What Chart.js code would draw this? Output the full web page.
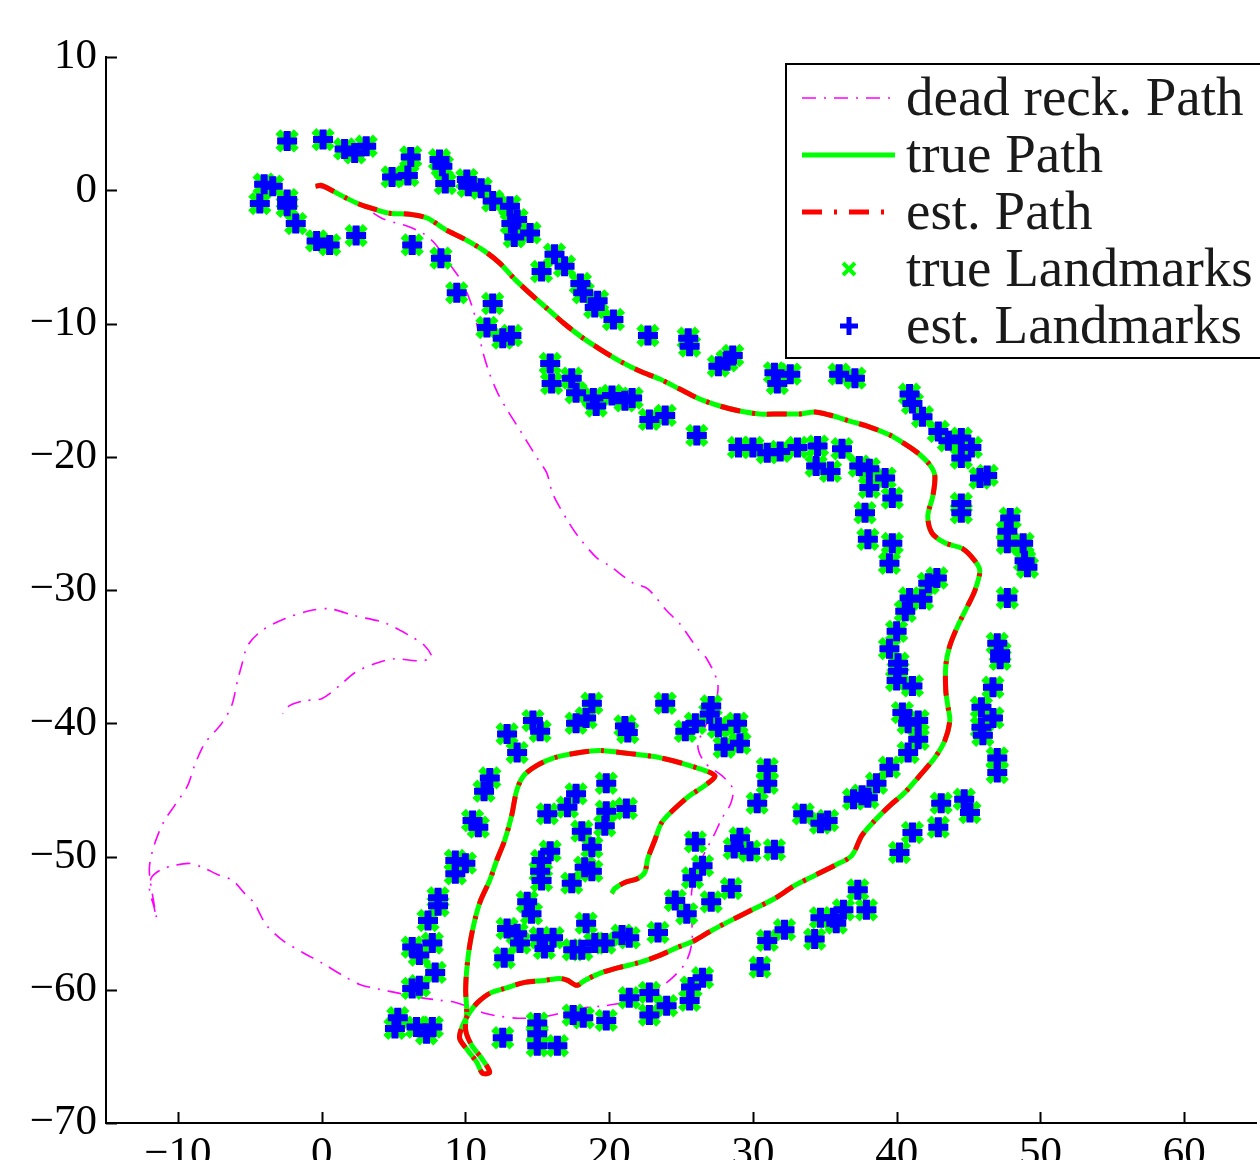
<!DOCTYPE html>
<html>
<head>
<meta charset="utf-8">
<script src="https://cdn.jsdelivr.net/npm/chart.js@4.4.0/dist/chart.umd.min.js"></script>
<style>
  html, body { margin: 0; padding: 0; background: #fff; overflow: hidden; }
  #wrap { width: 1260px; height: 1160px; overflow: hidden; }
</style>
</head>
<body>
<div id="wrap"><canvas id="slamChart" width="1276" height="1200"></canvas></div>
<script>
// Axis limits and ticks
const xTicks = [-10, 0, 10, 20, 30, 40, 50, 60];
const yTicks = [-70, -60, -50, -40, -30, -20, -10, 0, 10];

// Series names
const seriesNames = ["dead reck. Path", "true Path", "est. Path", "true Landmarks", "est. Landmarks"];

// Dead reckoning path [x, y]
const deadReckPath = [
  [-0.42,0.30],[0.77,-0.07],[1.81,-0.67],[2.85,-1.20],[4.18,-2.10],[5.22,-2.47],[5.98,-2.70],[7.03,-3.22],
  [7.86,-3.97],[8.91,-5.55],[9.81,-6.97],[10.51,-8.85],[10.79,-10.04],[11.20,-12.07],[11.69,-13.79],[12.25,-15.22],
  [12.87,-16.42],[13.92,-18.22],[14.47,-19.19],[15.03,-20.16],[15.66,-21.21],[16.08,-22.79],[17.12,-24.81],[17.82,-25.94],
  [19.14,-27.59],[20.04,-28.19],[21.64,-29.46],[22.69,-29.91],[24.01,-31.56],[24.91,-32.53],[26.10,-34.33],[26.79,-35.16],
  [27.56,-37.03],[27.35,-38.68],[26.65,-40.33],[26.17,-41.68],[26.65,-42.95],[27.84,-43.93],[28.60,-44.90],[28.46,-46.03],
  [27.84,-47.15],[27.28,-48.43],[26.65,-49.70],[26.10,-51.05],[25.75,-52.55],[25.75,-54.42],[25.75,-56.52],[25.33,-57.95],
  [24.43,-59.07],[23.52,-59.82],[22.13,-60.49],[20.74,-61.02],[19.35,-61.24],[17.95,-61.39],[16.56,-61.77],[15.17,-62.07],
  [13.64,-62.14],[12.39,-61.99],[11.34,-61.77],[10.30,-61.32],[9.26,-60.94],[8.21,-60.79],[6.82,-60.57],[5.43,-60.27],
  [4.04,-59.97],[2.64,-59.60],[1.46,-58.92],[0.07,-58.02],[-1.32,-57.20],[-2.71,-56.30],[-3.83,-55.17],[-4.31,-54.27],
  [-4.66,-53.52],[-5.36,-52.77],[-6.19,-51.80],[-7.24,-51.35],[-8.28,-50.82],[-9.19,-50.52],[-10.23,-50.67],[-11.13,-50.97],
  [-11.83,-51.57],[-11.97,-52.55],[-11.69,-53.67],[-11.48,-54.65],[-11.76,-52.92],[-11.97,-51.42],[-11.97,-50.67],[-11.76,-49.55],
  [-11.41,-48.43],[-10.93,-47.30],[-10.23,-46.18],[-9.32,-44.68],[-8.84,-43.18],[-8.14,-41.53],[-6.96,-40.03],[-6.26,-38.68],
  [-5.85,-36.81],[-5.57,-35.68],[-5.15,-34.18],[-4.18,-33.06],[-2.57,-32.16],[-0.84,-31.56],[0.56,-31.41],[2.30,-31.93],
  [4.38,-32.46],[6.12,-33.43],[7.17,-34.18],[7.65,-35.08],[6.68,-35.31],[5.08,-35.16],[3.69,-35.53],[2.30,-36.21],
  [1.25,-37.18],[0.00,-38.16],[-1.18,-38.31],[-2.23,-38.68],[-2.71,-39.28]
];

// True path [x, y]
const truePath = [
  [-0.42,0.30],[0.00,0.37],[0.56,0.07],[1.60,-0.52],[2.64,-1.05],[3.69,-1.42],[4.73,-1.72],[6.12,-1.80],
  [7.38,-2.10],[8.56,-2.92],[9.95,-3.67],[11.34,-4.57],[12.39,-5.47],[13.43,-6.67],[14.47,-7.72],[15.73,-8.92],
  [16.91,-10.04],[18.09,-11.02],[19.35,-11.92],[20.74,-12.82],[22.13,-13.57],[23.52,-14.17],[24.91,-14.92],[26.30,-15.67],
  [27.70,-16.19],[29.09,-16.57],[30.48,-16.79],[31.87,-16.79],[33.26,-16.79],[34.31,-16.64],[35.35,-16.87],[36.74,-17.32],
  [38.14,-17.77],[39.53,-18.37],[40.57,-19.04],[41.48,-19.72],[42.31,-20.61],[42.66,-21.44],[42.52,-22.94],[42.17,-24.44],
  [42.45,-25.71],[43.35,-26.46],[44.61,-26.91],[45.44,-27.81],[45.79,-28.56],[45.44,-30.06],[44.95,-31.18],[44.26,-32.68],
  [43.70,-34.18],[43.42,-35.68],[43.42,-37.56],[43.56,-38.68],[43.70,-39.81],[43.35,-41.30],[42.66,-42.58],[41.61,-43.93],
  [40.57,-45.20],[39.53,-46.18],[38.48,-47.30],[37.58,-48.43],[36.88,-49.93],[35.70,-50.67],[34.31,-51.42],[32.92,-52.17],
  [31.52,-53.15],[30.13,-53.90],[28.74,-54.65],[27.14,-55.55],[25.96,-56.30],[24.77,-56.82],[23.52,-57.42],[22.13,-57.95],
  [20.74,-58.32],[19.35,-58.77],[18.30,-59.30],[17.75,-59.67],[17.12,-59.30],[16.56,-59.15],[15.52,-59.30],[14.13,-59.45],
  [12.73,-59.90],[11.69,-60.27],[10.86,-60.95],[10.30,-61.69],[9.81,-62.67],[9.60,-63.64],[10.16,-64.54],[10.79,-65.44],
  [11.20,-66.27],[11.69,-66.19],[11.13,-65.14],[10.44,-64.17],[10.02,-63.04],[10.09,-61.54],[10.02,-60.04],[10.09,-58.55],
  [10.30,-56.67],[10.65,-54.80],[11.06,-53.30],[11.69,-51.80],[12.18,-50.30],[12.73,-48.80],[13.22,-46.93],[13.57,-45.05],
  [14.06,-43.93],[14.96,-43.18],[16.21,-42.58],[17.95,-42.20],[19.35,-42.05],[21.43,-42.28],[23.52,-42.58],[25.61,-43.18],
  [27.35,-43.93],[26.65,-44.68],[25.61,-45.43],[24.57,-46.40],[23.66,-47.45],[23.17,-48.80],[22.69,-50.15],[22.48,-51.20],
  [21.99,-51.65],[21.09,-51.95],[20.39,-52.40],[20.18,-52.77]
];

// Estimated path sits on top of the true path at this scale
const estPath = truePath;

// Landmarks [x, y] (estimates coincide with the true positions)
const landmarks = [
  [-2.4,3.7],[0.1,3.8],[1.6,3.1],[2.3,2.8],[3.1,3.3],[6.2,2.5],[8.2,2.3],[8.4,1.8],[4.9,1.0],[6.0,1.1],
  [-4.0,0.45],[-3.4,0.3],[-4.3,-1.0],[-2.4,-0.7],[-2.4,-1.2],[-1.8,-2.5],[-0.35,-3.8],[0.56,-4.1],[2.4,-3.4],[6.3,-4.1],
  [8.3,-5.1],[8.6,0.5],[10.1,0.8],[10.2,0.3],[11.1,0.15],[11.9,-0.8],[13.1,-1.2],[13.2,-2.5],[13.6,-2.2],[13.4,-3.5],
  [14.5,-3.2],[9.4,-7.7],[11.9,-8.5],[11.5,-10.3],[12.6,-11.1],[13.2,-10.9],[16.2,-4.8],[15.3,-6.1],[16.9,-5.7],[18.0,-7.0],
  [18.2,-7.7],[19.2,-8.3],[19.0,-8.8],[20.3,-9.7],[22.7,-10.9],[25.5,-11.1],[25.6,-11.7],[27.6,-13.2],[28.6,-12.4],[28.2,-12.8],
  [15.9,-13.0],[16.0,-14.5],[17.4,-14.1],[17.7,-15.2],[18.9,-15.6],[19.1,-16.2],[20.2,-15.4],[21.1,-15.8],[21.6,-15.6],[22.8,-17.2],
  [23.9,-16.9],[26.1,-18.4],[29.0,-19.3],
  [31.5,-13.7],[32.6,-13.8],[31.7,-14.5],[36.0,-13.8],[37.1,-14.1],[40.9,-15.3],[41.1,-16.0],[41.8,-17.0],[42.9,-18.1],[43.6,-18.8],
  [44.5,-18.6],[45.2,-19.3],[44.5,-20.1],[45.8,-21.6],[46.3,-21.4],[44.5,-23.5],[44.5,-24.2],[47.9,-24.6],[47.7,-25.6],[47.7,-26.5],
  [48.8,-26.5],[48.9,-27.8],[49.1,-28.3],[47.7,-30.6],[30.0,-19.3],[31.0,-19.7],[31.9,-19.6],[33.1,-19.3],[34.5,-19.2],[36.2,-19.4],
  [34.4,-20.7],[35.4,-21.1],[37.4,-20.7],[38.1,-20.9],[38.1,-22.3],[39.2,-21.6],[39.7,-23.1],[37.8,-24.2],[38.0,-26.2],[39.7,-26.5],
  [39.5,-28.0],[42.8,-29.1],[42.2,-29.5],[40.9,-30.6],[41.8,-30.7],[40.6,-31.6],[40.0,-33.1],[39.5,-34.4],[47.0,-34.0],[47.2,-34.7],
  [40.1,-35.5],[40.1,-36.1],[40.0,-36.8],[41.1,-37.2],[47.2,-35.2],[46.7,-37.3],[40.4,-39.2],[40.8,-40.0],[41.5,-39.8],[41.5,-41.2],
  [40.8,-42.2],[39.5,-43.3],[38.6,-44.5],[37.6,-45.4],[37.0,-45.7],[38.0,-45.6],[33.5,-46.8],[34.7,-47.5],[35.2,-47.3],[30.3,-46.0],
  [31.0,-43.4],[31.0,-44.5],[29.8,-49.6],[31.5,-49.5],[45.9,-38.8],[46.7,-39.6],[45.9,-40.3],[46.0,-40.9],[47.0,-42.6],[47.0,-43.7],
  [43.1,-46.0],[44.7,-45.7],[45.1,-46.7],[42.9,-47.8],[41.1,-48.2],[40.2,-49.7],[37.3,-52.5],[37.9,-54.0],[34.7,-54.6],[35.6,-54.6],
  [36.3,-54.0],[35.8,-55.0],[32.2,-55.5],[31.0,-56.3],[34.3,-56.2],[30.5,-58.3],
  [18.8,-38.5],[18.4,-39.6],[17.7,-40.0],[14.7,-39.8],[15.2,-40.6],[12.9,-40.8],[13.6,-42.2],[21.1,-40.2],[21.3,-40.7],[23.9,-38.5],
  [27.1,-38.7],[27.0,-39.3],[26.0,-40.0],[25.3,-40.6],[27.6,-40.3],[28.9,-40.0],[28.0,-41.8],[29.1,-41.5],
  [11.3,-45.1],[11.7,-44.1],[10.5,-47.3],[10.9,-47.8],[9.3,-50.3],[10.0,-50.5],[9.3,-51.3],[15.7,-46.8],[17.1,-46.3],[17.7,-45.3],
  [19.8,-44.5],[19.8,-46.6],[21.2,-46.4],[19.7,-47.7],[18.1,-48.1],[18.8,-49.3],[15.9,-49.6],[15.3,-50.3],[15.2,-51.1],[15.3,-51.8],
  [18.3,-50.8],[18.8,-51.1],[17.4,-52.0],[14.3,-53.4],[14.6,-54.3],[18.4,-55.0],[12.9,-55.4],[13.6,-55.8],[13.8,-56.5],[12.7,-57.6],
  [15.2,-56.1],[16.1,-56.1],[15.5,-56.9],[17.5,-57.0],[18.1,-57.0],[19.0,-56.5],[19.7,-56.5],[20.9,-55.9],[21.4,-56.1],[23.4,-55.7],
  [24.6,-53.3],[25.4,-54.3],[27.1,-53.4],[26.0,-48.9],[26.5,-50.7],[25.8,-51.6],[28.5,-52.4],[29.1,-48.6],[28.7,-49.4],
  [21.4,-60.6],[22.8,-60.2],[22.8,-61.9],[24.0,-61.2],[25.7,-59.8],[26.5,-59.1],[25.6,-60.8],[17.5,-61.9],[18.2,-62.1],[19.8,-62.3],
  [15.0,-62.5],[15.0,-63.3],[15.0,-64.2],[16.4,-64.2],[12.6,-63.6],
  [8.1,-53.1],[8.1,-53.7],[7.4,-54.8],[6.3,-56.8],[7.7,-56.5],[6.8,-57.4],[7.9,-58.7],[6.3,-59.9],[6.8,-59.7],[5.1,-62.9],
  [5.3,-62.1],[6.6,-62.8],[7.7,-62.8],[7.3,-63.3]
];
const estLandmarks = landmarks;

const toXY = arr => arr.map(p => ({ x: p[0], y: p[1] }));
const serif = "'Liberation Serif', 'Times New Roman', serif";
const fmt = v => (v < 0 ? '\u2212' + Math.abs(v) : String(v));

// Inner tick marks and the boxed legend, drawn like the MATLAB figure
const figurePlugin = {
  id: 'figureExtras',
  afterDraw(chart) {
    const ctx = chart.ctx;
    const area = chart.chartArea;
    const xs = chart.scales.x, ys = chart.scales.y;
    ctx.save();
    ctx.strokeStyle = '#000';
    ctx.lineWidth = 2;
    xTicks.forEach(v => {
      const px = Math.round(xs.getPixelForValue(v)) + 0.5;
      ctx.beginPath(); ctx.moveTo(px, area.bottom); ctx.lineTo(px, area.bottom - 11); ctx.stroke();
    });
    yTicks.forEach(v => {
      const py = Math.round(ys.getPixelForValue(v)) + 0.5;
      ctx.beginPath(); ctx.moveTo(area.left, py); ctx.lineTo(area.left + 11, py); ctx.stroke();
    });

    // legend box
    const bx = 786, by = 64, bw = 490, bh = 294;
    ctx.fillStyle = '#fff';
    ctx.fillRect(bx, by, bw, bh);
    ctx.strokeStyle = '#000';
    ctx.lineWidth = 2;
    ctx.strokeRect(bx, by, bw, bh);

    const rowY = [98, 155, 212, 269, 326];
    const x0 = 802, x1 = 895, xm = 849;
    const ds = chart.data.datasets;
    // line samples
    [0, 1, 2].forEach(i => {
      ctx.beginPath();
      ctx.strokeStyle = ds[i].borderColor;
      ctx.lineWidth = ds[i].borderWidth;
      ctx.setLineDash(ds[i].borderDash || []);
      ctx.moveTo(x0, rowY[i]); ctx.lineTo(x1, rowY[i]);
      ctx.stroke();
    });
    ctx.setLineDash([]);
    // green x
    ctx.strokeStyle = '#00ff00'; ctx.lineWidth = 4;
    const r = 6;
    ctx.beginPath();
    ctx.moveTo(xm - r, rowY[3] - r); ctx.lineTo(xm + r, rowY[3] + r);
    ctx.moveTo(xm + r, rowY[3] - r); ctx.lineTo(xm - r, rowY[3] + r);
    ctx.stroke();
    // blue +
    ctx.strokeStyle = '#0000ff'; ctx.lineWidth = 5;
    ctx.beginPath();
    ctx.moveTo(xm - 9, rowY[4]); ctx.lineTo(xm + 9, rowY[4]);
    ctx.moveTo(xm, rowY[4] - 9); ctx.lineTo(xm, rowY[4] + 9);
    ctx.stroke();

    ctx.fillStyle = '#1a1a1a';
    ctx.font = '55px ' + serif;
    ctx.textAlign = 'left';
    ctx.textBaseline = 'alphabetic';
    seriesNames.forEach((name, i) => ctx.fillText(name, 906, rowY[i] + 17));
    ctx.restore();
  }
};

const ctx = document.getElementById('slamChart').getContext('2d');

new Chart(ctx, {
  type: 'scatter',
  data: {
    datasets: [
      {
        label: seriesNames[0],
        data: toXY(deadReckPath),
        showLine: true,
        borderColor: '#ff00ff',
        borderWidth: 1.6,
        borderDash: [14, 8, 2, 8],
        pointRadius: 0,
        tension: 0.3,
        order: 5
      },
      {
        label: seriesNames[1],
        data: toXY(truePath),
        showLine: true,
        borderColor: '#00ff00',
        borderWidth: 5,
        pointRadius: 0,
        tension: 0.3,
        order: 4
      },
      {
        label: seriesNames[2],
        data: toXY(estPath),
        showLine: true,
        borderColor: '#ff0000',
        borderWidth: 5,
        borderDash: [20, 12, 3, 12],
        pointRadius: 0,
        tension: 0.3,
        order: 3
      },
      {
        label: seriesNames[3],
        data: toXY(landmarks),
        showLine: false,
        pointStyle: 'crossRot',
        pointRadius: 13,
        pointBorderWidth: 7,
        pointBorderColor: '#00ff00',
        pointBackgroundColor: '#00ff00',
        order: 2
      },
      {
        label: seriesNames[4],
        data: toXY(estLandmarks),
        showLine: false,
        pointStyle: 'cross',
        pointRadius: 10,
        pointBorderWidth: 7,
        pointBorderColor: '#0000ff',
        pointBackgroundColor: '#0000ff',
        order: 1
      }
    ]
  },
  options: {
    responsive: false,
    animation: false,
    devicePixelRatio: 1,
    events: [],
    layout: { padding: { top: 57, right: 0, left: 0, bottom: 0 } },
    plugins: {
      legend: { display: false },
      tooltip: { enabled: false }
    },
    scales: {
      x: {
        type: 'linear',
        min: -15,
        max: 65,
        grid: { display: false, drawTicks: false },
        border: { display: true, color: '#000', width: 2 },
        ticks: {
          stepSize: 10,
          padding: 6,
          color: '#000',
          font: { family: serif, size: 43 },
          callback: fmt
        },
        afterBuildTicks: s => { s.ticks = xTicks.map(v => ({ value: v })); },
        afterFit: s => { s.height = 77; s.paddingLeft = 0; s.paddingRight = 0; }
      },
      y: {
        type: 'linear',
        min: -70,
        max: 10,
        grid: { display: false, drawTicks: false },
        border: { display: true, color: '#000', width: 2 },
        ticks: {
          stepSize: 10,
          padding: 9,
          color: '#000',
          font: { family: serif, size: 43 },
          callback: fmt
        },
        afterBuildTicks: s => { s.ticks = yTicks.map(v => ({ value: v })); },
        afterFit: s => { s.width = 106; s.paddingTop = 0; s.paddingBottom = 0; }
      }
    }
  },
  plugins: [figurePlugin]
});
</script>
</body>
</html>
